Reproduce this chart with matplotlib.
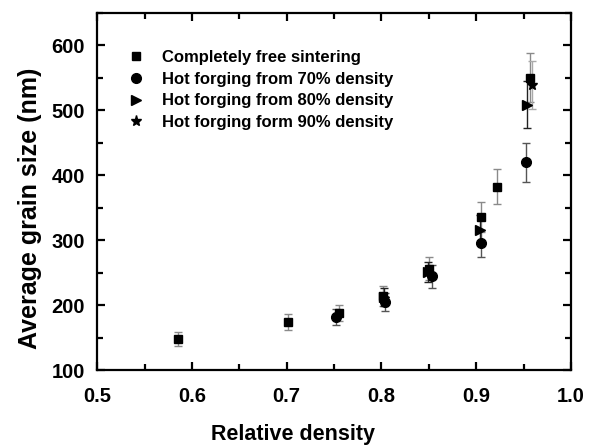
import numpy as np
import matplotlib.pyplot as plt
from matplotlib.ticker import MultipleLocator

plt.rcParams['font.family'] = ['Liberation Sans', 'DejaVu Sans']
plt.rcParams['font.weight'] = 'bold'

# completely free sintering
free_x = [0.585, 0.701, 0.755, 0.802, 0.850, 0.905, 0.922, 0.957]
free_y = [148, 174, 188, 214, 256, 336, 382, 550]
free_err = [11, 12, 12, 15, 18, 23, 27, 38]

# hot forging from 70% density
f70_x = [0.752, 0.804, 0.853, 0.905, 0.953]
f70_y = [182, 205, 244, 295, 420]
f70_err = [12, 14, 17, 21, 30]

# hot forging from 80% density
f80_x = [0.803, 0.849, 0.904, 0.954]
f80_y = [212, 251, 316, 508]
f80_err = [14, 16, 22, 36]

# hot forging from 90% density
f90_x = [0.959]
f90_y = [538]
f90_err = [37]

fig = plt.figure(figsize=(5.96, 4.47), dpi=100)
ax = fig.add_axes([0.163, 0.172, 0.795, 0.8])

ax.errorbar(free_x, free_y, yerr=free_err, fmt='s', color='black', ms=6,
            ecolor='#8a8a8a', elinewidth=1, capsize=3, capthick=1,
            label='Completely free sintering')
ax.errorbar(f70_x, f70_y, yerr=f70_err, fmt='o', color='black', ms=7,
            ecolor='#555555', elinewidth=1, capsize=3, capthick=1,
            label='Hot forging from 70% density')
ax.errorbar(f80_x, f80_y, yerr=f80_err, fmt='>', color='black', ms=7,
            ecolor='#222222', elinewidth=1, capsize=3, capthick=1,
            label='Hot forging from 80% density')
ax.errorbar(f90_x, f90_y, yerr=f90_err, fmt='*', color='black', ms=8,
            ecolor='#aaaaaa', elinewidth=1, capsize=3, capthick=1,
            label='Hot forging form 90% density')

ax.set_xlim(0.5, 1.0)
ax.set_ylim(100, 650)
ax.xaxis.set_major_locator(MultipleLocator(0.1))
ax.xaxis.set_minor_locator(MultipleLocator(0.05))
ax.yaxis.set_major_locator(MultipleLocator(100))
ax.yaxis.set_minor_locator(MultipleLocator(50))
ax.xaxis.set_major_formatter(plt.FormatStrFormatter('%.1f'))

for s in ax.spines.values():
    s.set_linewidth(1.6)
ax.tick_params(which='both', direction='in', top=True, right=True,
               width=1.6, labelsize=14.5)
ax.tick_params(which='major', length=6)
ax.tick_params(which='minor', length=4)
ax.tick_params(axis='x', which='major', pad=12)
ax.tick_params(axis='y', which='major', pad=9)

ax.set_xlabel('Relative density', fontsize=15.5, fontweight='bold')
ax.set_ylabel('Average grain size (nm)', fontsize=18, fontweight='bold')
ax.xaxis.set_label_coords(0.414, -0.15)
ax.yaxis.set_label_coords(-0.116, 0.453)

handles, labels = ax.get_legend_handles_labels()
handles = [h[0] for h in handles]
ax.legend(handles, labels, loc='upper left', bbox_to_anchor=(0.032, 0.937),
          frameon=False, fontsize=12, handletextpad=1.1, labelspacing=0.4,
          handlelength=1.0)

fig.savefig('out.png', dpi=100)
